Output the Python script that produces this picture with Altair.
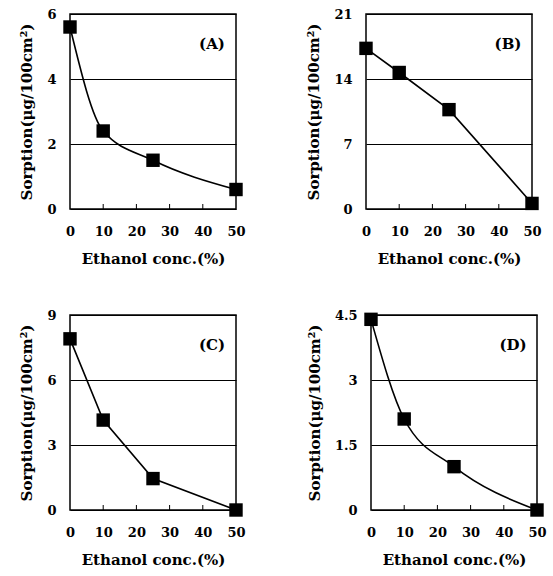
import altair as alt
import pandas as pd

conc = [0, 10, 25, 50]
sorp_a = [5.6, 2.4, 1.5, 0.6]
sorp_b = [17.3, 14.7, 10.7, 0.6]
sorp_c = [7.9, 4.15, 1.45, 0.0]
sorp_d = [4.4, 2.1, 1.0, 0.0]

ticks_a = [0, 2, 4, 6]
ticks_b = [0, 7, 14, 21]
ticks_c = [0, 3, 6, 9]
ticks_d = [0, 1.5, 3, 4.5]
x_ticks = [0, 10, 20, 30, 40, 50]
inner_x_ticks = [10, 20, 30, 40]

labels = ["(A)", "(B)", "(C)", "(D)"]

FONT = "DejaVu Serif"
W, H = 166, 195


def panel(values, yticks, label, interp):
    df = pd.DataFrame({"conc": conc, "sorption": values})
    ymax = yticks[-1]
    xscale = alt.Scale(domain=[0, 50], nice=False)
    yscale = alt.Scale(domain=[0, ymax], nice=False)
    x = alt.X(
        "conc:Q",
        scale=xscale,
        axis=alt.Axis(
            values=x_ticks, title="Ethanol conc.(%)", grid=False, ticks=False,
            domain=False, labelPadding=16, titlePadding=13, format=".1~f",
            labelFont=FONT, labelFontSize=13, labelFontWeight="bold", labelColor="black",
            titleFont=FONT, titleFontSize=15, titleFontWeight="bold", titleColor="black",
            labelFlush=False, labelOverlap=False, labelBound=False,
        ),
    )
    y = alt.Y(
        "sorption:Q",
        scale=yscale,
        axis=alt.Axis(
            values=yticks, title="Sorption(μg/100cm²)", grid=True, gridColor="black",
            gridOpacity=1, gridWidth=1, ticks=False, domain=False, labelPadding=14,
            titlePadding=12, format=".1~f", labelFont=FONT, labelFontSize=13,
            labelFontWeight="bold", labelColor="black", titleFont=FONT, titleFontSize=15,
            titleFontWeight="bold", titleColor="black", labelFlush=False,
            labelOverlap=False, labelBound=False,
        ),
    )
    line = alt.Chart(df).mark_line(color="black", strokeWidth=1.6, interpolate=interp).encode(x=x, y=y)
    pts = alt.Chart(df).mark_point(
        shape="square", filled=True, color="black", size=180, opacity=1
    ).encode(x=x, y=y)
    tdf = pd.DataFrame({"conc": inner_x_ticks})
    tk = alt.Chart(tdf).mark_rule(color="black", strokeWidth=1).encode(
        x=x, y=alt.value(H), y2=alt.value(H - 5)
    )
    ldf = pd.DataFrame({"label": [label]})
    txt = alt.Chart(ldf).mark_text(
        font=FONT, fontSize=15, fontWeight="bold", color="black", align="center", baseline="middle"
    ).encode(text="label:N", x=alt.value(W - 24), y=alt.value(30))
    return alt.layer(line, pts, tk, txt).properties(width=W, height=H)


pa = panel(sorp_a, ticks_a, labels[0], "monotone")
pb = panel(sorp_b, ticks_b, labels[1], "linear")
pc = panel(sorp_c, ticks_c, labels[2], "linear")
pd_ = panel(sorp_d, ticks_d, labels[3], "monotone")

chart = alt.vconcat(
    alt.hconcat(pa, pb, spacing=60),
    alt.hconcat(pc, pd_, spacing=60),
    spacing=41,
).configure_view(stroke="black", strokeWidth=1.5).properties(
    background="white", padding={"left": 19, "top": 7, "right": 5, "bottom": 5}
)

chart.save("out.html", embed_options={"renderer": "svg", "actions": False})
